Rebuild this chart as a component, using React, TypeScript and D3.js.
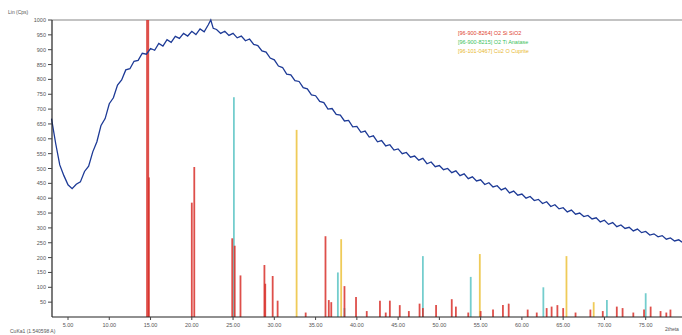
import * as d3 from "d3";

// measured scan: [2theta, counts]
const scan: [number, number][] = [
  [3.0, 668], [3.5, 585], [4.0, 512], [4.5, 476], [5.0, 445], [5.5, 432], [6.0, 447], [6.5, 455],
  [7.0, 490], [7.5, 508], [8.0, 556], [8.5, 590], [9.0, 645], [9.5, 668], [10.0, 718], [10.5, 738],
  [11.0, 781], [11.5, 798], [12.0, 832], [12.5, 836], [13.0, 861], [13.5, 864], [14.0, 888], [14.5, 885],
  [15.0, 904], [15.5, 898], [16.0, 921], [16.5, 912], [17.0, 934], [17.5, 925], [18.0, 945], [18.5, 938],
  [19.0, 955], [19.5, 946], [20.0, 962], [20.5, 951], [21.0, 970], [21.5, 960], [22.0, 984], [22.3, 1000],
  [22.6, 972], [23.0, 968], [23.5, 955], [24.0, 962], [24.5, 948], [25.0, 955], [25.5, 940], [26.0, 946],
  [26.5, 930], [27.0, 936], [27.5, 918], [28.0, 914], [28.5, 896], [29.0, 892], [29.5, 872], [30.0, 866],
  [30.5, 845], [31.0, 840], [31.5, 818], [32.0, 815], [32.5, 796], [33.0, 793], [33.5, 772], [34.0, 768],
  [34.5, 748], [35.0, 745], [35.5, 726], [36.0, 722], [36.5, 700], [37.0, 702], [37.5, 682], [38.0, 680],
  [38.5, 660], [39.0, 662], [39.5, 640], [40.0, 642], [40.5, 622], [41.0, 626], [41.5, 606], [42.0, 610],
  [42.5, 590], [43.0, 594], [43.5, 576], [44.0, 580], [44.5, 562], [45.0, 566], [45.5, 550], [46.0, 554],
  [46.5, 538], [47.0, 542], [47.5, 528], [48.0, 534], [48.5, 516], [49.0, 522], [49.5, 506], [50.0, 510],
  [50.5, 496], [51.0, 500], [51.5, 486], [52.0, 492], [52.5, 476], [53.0, 482], [53.5, 466], [54.0, 472],
  [54.5, 458], [55.0, 462], [55.5, 446], [56.0, 452], [56.5, 438], [57.0, 442], [57.5, 428], [58.0, 434],
  [58.5, 418], [59.0, 424], [59.5, 410], [60.0, 414], [60.5, 400], [61.0, 406], [61.5, 392], [62.0, 396],
  [62.5, 382], [63.0, 388], [63.5, 372], [64.0, 378], [64.5, 364], [65.0, 368], [65.5, 354], [66.0, 360],
  [66.5, 346], [67.0, 350], [67.5, 338], [68.0, 342], [68.5, 330], [69.0, 334], [69.5, 320], [70.0, 326],
  [70.5, 312], [71.0, 318], [71.5, 304], [72.0, 310], [72.5, 298], [73.0, 302], [73.5, 290], [74.0, 296],
  [74.5, 284], [75.0, 288], [75.5, 276], [76.0, 280], [76.5, 270], [77.0, 274], [77.5, 262], [78.0, 266],
  [78.5, 256], [79.0, 260], [79.4, 252],
];

// reference patterns: [2theta, intensity]
const quartzSticks: [number, number][] = [
  [14.65, 1000], [14.8, 470], [20.0, 385], [20.3, 505], [24.9, 265], [25.2, 240], [25.9, 140],
  [28.8, 175], [28.9, 112], [29.8, 138], [30.4, 55], [33.8, 15], [36.2, 272], [36.6, 57], [36.9, 50],
  [38.5, 104], [39.9, 67], [41.2, 20], [42.8, 55], [43.5, 15], [44.0, 55], [45.2, 40], [46.3, 20],
  [47.6, 45], [48.0, 30], [49.6, 40], [51.5, 60], [52.0, 35], [53.5, 15], [55.0, 20], [56.5, 25],
  [57.7, 40], [58.4, 45], [60.7, 25], [61.8, 15], [63.0, 30], [63.6, 35], [64.3, 40], [65.0, 30],
  [66.5, 15], [68.3, 25], [69.8, 20], [71.5, 35], [72.2, 30], [73.5, 15], [74.8, 25], [75.6, 35],
  [76.8, 20], [77.5, 15], [78.0, 25],
];
const anataseSticks: [number, number][] = [
  [25.1, 740], [37.7, 150], [38.5, 30], [48.0, 205], [53.8, 135], [62.6, 100], [70.3, 57], [75.0, 80],
];
const thirdSticks: [number, number][] = [
  [32.7, 630], [38.1, 262], [54.9, 212], [65.4, 205], [68.7, 50],
];

const legendLabels = [
  "[96-900-8264] O2 Si SiO2",
  "[96-900-8215] O2 Ti Anatase",
  "[96-101-0467] Cu2 O Cuprite",
];
const xTicks = [5, 10, 15, 20, 25, 30, 35, 40, 45, 50, 55, 60, 65, 70, 75];
const yTicks = [50, 100, 150, 200, 250, 300, 350, 400, 450, 500, 550, 600, 650, 700, 750, 800, 850, 900, 950, 1000];

const W = 682, H = 335;
const left = 52, right = 682, top = 20, bottom = 317;

export default function App() {
  const x = d3.scaleLinear().domain([3.06, 79.4]).range([left, right]);
  const y = d3.scaleLinear().domain([0, 1000]).range([bottom, top]);
  const line = d3.line<[number, number]>().x((d) => x(d[0])).y((d) => y(d[1]));

  const sticks = (data: [number, number][], color: string, key: string) =>
    data.map((d, i) => (
      <line key={key + i} x1={x(d[0])} x2={x(d[0])} y1={bottom} y2={y(d[1])}
        stroke={color} strokeWidth={d[1] > 900 ? 3 : 1.8} strokeOpacity={0.85} />
    ));

  const font = "Liberation Sans, Arial, sans-serif";
  return (
    <svg width={W} height={H} style={{ position: "absolute", left: 0, top: 0, background: "#fff" }} fontFamily={font}>
      <line x1={left} x2={right} y1={top} y2={top} stroke="#888" strokeWidth={1.2} />
      {sticks(thirdSticks, "#ecc23c", "c")}
      {sticks(anataseSticks, "#5cc4c4", "a")}
      {sticks(quartzSticks, "#d8302a", "q")}
      <path d={line(scan) || ""} fill="none" stroke="#1d3a96" strokeWidth={1.3} />
      <line x1={left} x2={left} y1={top} y2={bottom} stroke="#222" strokeWidth={1.2} />
      <line x1={left} x2={right} y1={bottom} y2={bottom} stroke="#222" strokeWidth={1.2} />
      {yTicks.map((t) => (
        <g key={"y" + t}>
          <line x1={left - 4} x2={left} y1={y(t)} y2={y(t)} stroke="#444" />
          <text x={left - 6} y={y(t) + 2} fontSize={5.5} textAnchor="end" fill="#555">{t}</text>
        </g>
      ))}
      {xTicks.map((t) => (
        <g key={"x" + t}>
          <line x1={x(t)} x2={x(t)} y1={bottom} y2={bottom + 3} stroke="#444" />
          <text x={x(t)} y={bottom + 10} fontSize={5.5} textAnchor="middle" fill="#555">{t.toFixed(2)}</text>
        </g>
      ))}
      <text x={8} y={14} fontSize={5} fill="#555">Lin (Cps)</text>
      <text x={10} y={333} fontSize={5} fill="#555">CuKa1 (1.540598 A)</text>
      <text x={665} y={331} fontSize={5} fill="#555">2theta</text>
      {legendLabels.map((s, i) => (
        <text key={s} x={458} y={35 + i * 9} fontSize={5.5}
          fill={["#e0402e", "#3cbf5a", "#e8b830"][i]}>{s}</text>
      ))}
    </svg>
  );
}
